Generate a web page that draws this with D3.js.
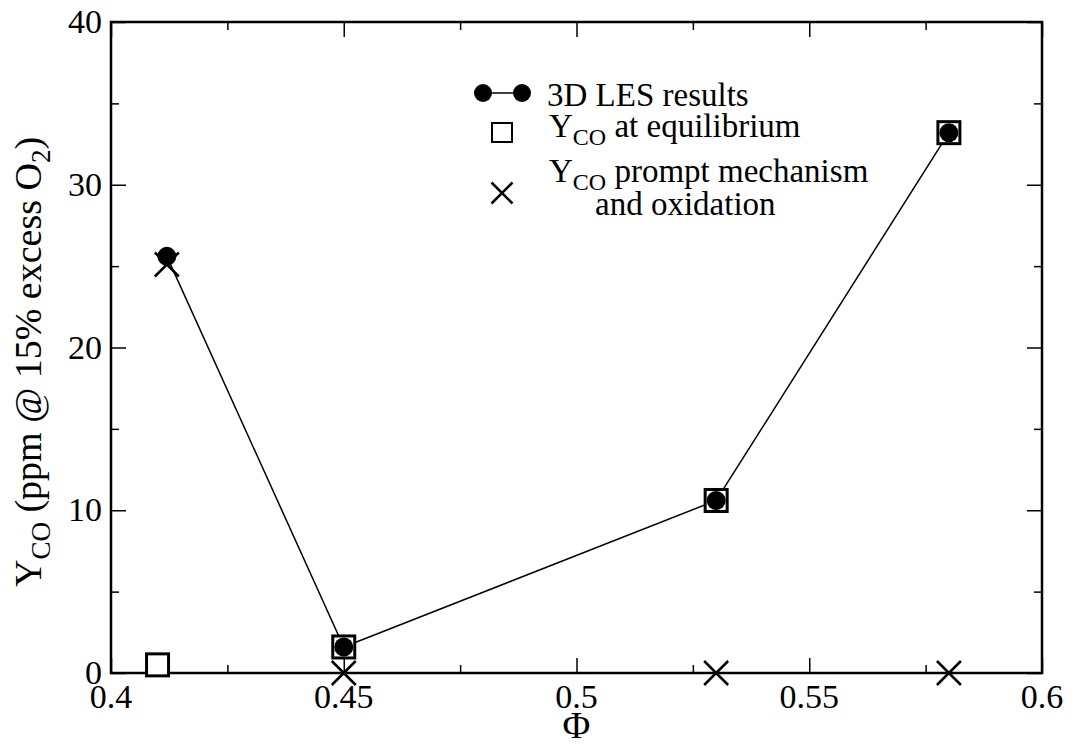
<!DOCTYPE html>
<html>
<head>
<meta charset="utf-8">
<script src="https://cdn.jsdelivr.net/npm/d3@7"></script>
<style>
  body { margin: 0; background: #fff; }
  svg text { font-family: "Liberation Serif", "Times New Roman", serif; fill: #000; }
</style>
</head>
<body>
<script>
// Data
var lesPhi = [0.412, 0.45, 0.53, 0.58];
var lesY = [25.6, 1.6, 10.6, 33.2];
var eqPhi = [0.41, 0.45, 0.53, 0.58];
var eqY = [0.5, 1.6, 10.6, 33.2];
var promptPhi = [0.412, 0.45, 0.53, 0.58];
var promptY = [25.1, 0, 0, 0];
var xTicks = [0.4, 0.45, 0.5, 0.55, 0.6];
var xTickLabels = ["0.4", "0.45", "0.5", "0.55", "0.6"];
var yTicks = [0, 10, 20, 30, 40];

var w = 1073, h = 754;
var mLeft = 111, mRight = 1042, mTop = 22, mBottom = 673;

var svg = d3.select("body").append("svg")
  .attr("width", w).attr("height", h);

var x = d3.scaleLinear().domain([0.4, 0.6]).range([mLeft, mRight]);
var y = d3.scaleLinear().domain([0, 40]).range([mBottom, mTop]);

// ticks (inward, on all four sides)
var xMinor = [0.425, 0.475, 0.525, 0.575];
var yMinor = [5, 15, 25, 35];

function tickAxis(axis, size) { return axis.tickSize(size).tickFormat(""); }

svg.append("g").attr("transform", "translate(0," + mBottom + ")")
  .call(tickAxis(d3.axisTop(x).tickValues(xTicks), 15));
svg.append("g").attr("transform", "translate(0," + mBottom + ")")
  .call(tickAxis(d3.axisTop(x).tickValues(xMinor), 8));
svg.append("g").attr("transform", "translate(0," + mTop + ")")
  .call(tickAxis(d3.axisBottom(x).tickValues(xTicks), 15));
svg.append("g").attr("transform", "translate(0," + mTop + ")")
  .call(tickAxis(d3.axisBottom(x).tickValues(xMinor), 8));
svg.append("g").attr("transform", "translate(" + mLeft + ",0)")
  .call(tickAxis(d3.axisRight(y).tickValues(yTicks), 15));
svg.append("g").attr("transform", "translate(" + mLeft + ",0)")
  .call(tickAxis(d3.axisRight(y).tickValues(yMinor), 8));
svg.append("g").attr("transform", "translate(" + mRight + ",0)")
  .call(tickAxis(d3.axisLeft(y).tickValues(yTicks), 15));
svg.append("g").attr("transform", "translate(" + mRight + ",0)")
  .call(tickAxis(d3.axisLeft(y).tickValues(yMinor), 8));

svg.selectAll(".domain").remove();
svg.selectAll(".tick text").remove();
svg.selectAll(".tick line").attr("stroke", "#000").attr("stroke-width", 1.5);

// frame
svg.append("rect")
  .attr("x", mLeft).attr("y", mTop)
  .attr("width", mRight - mLeft).attr("height", mBottom - mTop)
  .attr("fill", "none").attr("stroke", "#000").attr("stroke-width", 2.5);

// tick labels
svg.selectAll(".xlab").data(xTicks).enter().append("text")
  .attr("x", function(d) { return x(d); })
  .attr("y", 708)
  .attr("text-anchor", "middle")
  .attr("font-size", 34)
  .text(function(d, i) { return xTickLabels[i]; });

svg.selectAll(".ylab").data(yTicks).enter().append("text")
  .attr("x", 102)
  .attr("y", function(d) { return y(d) + 11; })
  .attr("text-anchor", "end")
  .attr("font-size", 34)
  .text(function(d) { return d; });

// axis titles
svg.append("text")
  .attr("x", x(0.5)).attr("y", 738)
  .attr("text-anchor", "middle")
  .attr("font-size", 38)
  .text("\u03A6");

var yt = svg.append("text")
  .attr("transform", "translate(41,362) rotate(-90)")
  .attr("text-anchor", "middle")
  .attr("font-size", 38);
yt.append("tspan").text("Y");
yt.append("tspan").attr("font-size", 27).attr("dy", 9).text("CO");
yt.append("tspan").attr("dy", -9).text(" (ppm @ 15% excess O");
yt.append("tspan").attr("font-size", 27).attr("dy", 9).text("2");
yt.append("tspan").attr("dy", -9).text(")");

// LES line + circles
var lesData = lesPhi.map(function(d, i) { return [d, lesY[i]]; });
svg.append("path")
  .datum(lesData)
  .attr("d", d3.line().x(function(d) { return x(d[0]); }).y(function(d) { return y(d[1]); }))
  .attr("fill", "none").attr("stroke", "#000").attr("stroke-width", 1.5);

// equilibrium squares
svg.selectAll(".sq").data(eqPhi).enter().append("rect")
  .attr("x", function(d) { return x(d) - 11; })
  .attr("y", function(d, i) { return y(eqY[i]) - 11; })
  .attr("width", 22).attr("height", 22)
  .attr("fill", "#fff").attr("stroke", "#000").attr("stroke-width", 3);

svg.selectAll(".dot").data(lesData).enter().append("circle")
  .attr("cx", function(d) { return x(d[0]); })
  .attr("cy", function(d) { return y(d[1]); })
  .attr("r", 9.5).attr("fill", "#000");

// prompt crosses
function cross(sel, cx, cy, s) {
  sel.append("path")
    .attr("d", "M" + (cx - s) + "," + (cy - s) + "L" + (cx + s) + "," + (cy + s) +
               "M" + (cx - s) + "," + (cy + s) + "L" + (cx + s) + "," + (cy - s))
    .attr("stroke", "#000").attr("stroke-width", 2.5).attr("fill", "none");
}
promptPhi.forEach(function(d, i) { cross(svg, x(d), y(promptY[i]), 12); });

// legend
var lg = svg.append("g");
lg.append("line").attr("x1", 483).attr("x2", 522).attr("y1", 93).attr("y2", 93)
  .attr("stroke", "#000").attr("stroke-width", 1.5);
lg.append("circle").attr("cx", 483).attr("cy", 93).attr("r", 9).attr("fill", "#000");
lg.append("circle").attr("cx", 522).attr("cy", 93).attr("r", 9).attr("fill", "#000");
lg.append("text").attr("x", 547).attr("y", 106).attr("font-size", 33).text("3D LES results");

lg.append("rect").attr("x", 492).attr("y", 123).attr("width", 20).attr("height", 19)
  .attr("fill", "none").attr("stroke", "#000").attr("stroke-width", 2);
var t2 = lg.append("text").attr("x", 549).attr("y", 137).attr("font-size", 33);
t2.append("tspan").text("Y");
t2.append("tspan").attr("font-size", 24).attr("dy", 8).text("CO");
t2.append("tspan").attr("dy", -8).text(" at equilibrium");

cross(lg, 502, 193, 10.5);
var t3 = lg.append("text").attr("x", 549).attr("y", 182).attr("font-size", 33);
t3.append("tspan").text("Y");
t3.append("tspan").attr("font-size", 24).attr("dy", 8).text("CO");
t3.append("tspan").attr("dy", -8).text(" prompt mechanism");
lg.append("text").attr("x", 595).attr("y", 215).attr("font-size", 33).text("and oxidation");
</script>
</body>
</html>
